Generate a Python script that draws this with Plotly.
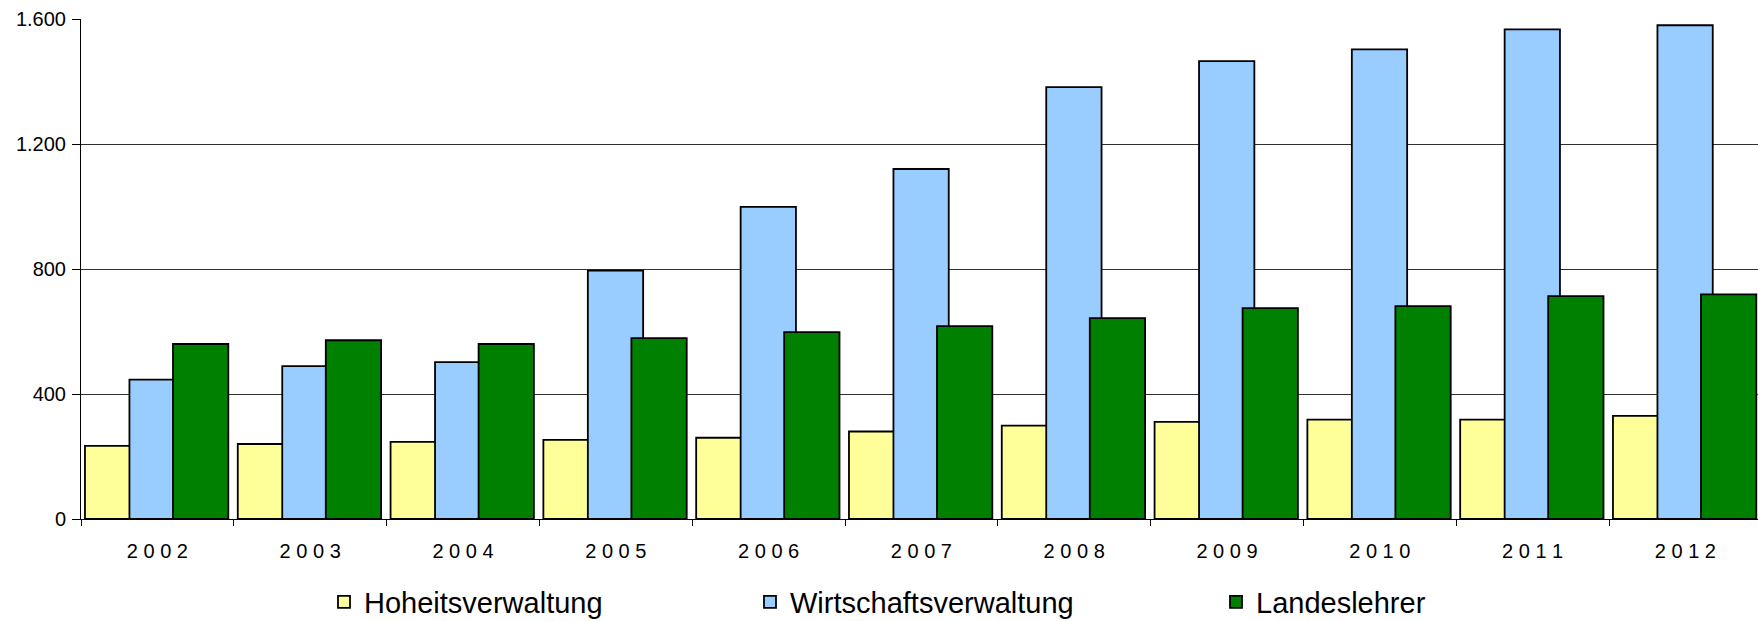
import plotly.graph_objects as go

years = ["2002", "2003", "2004", "2005", "2006", "2007", "2008", "2009", "2010", "2011", "2012"]
hoheit = [234, 240, 247, 253, 260, 280, 299, 311, 318, 318, 330]
wirtschaft = [446, 489, 502, 795, 999, 1120, 1382, 1465, 1503, 1567, 1580]
landeslehrer = [560, 572, 560, 579, 598, 617, 643, 675, 681, 713, 719]
y_ticks = [0, 400, 800, 1200, 1600]

series = [
    ("Hoheitsverwaltung", hoheit, "#FFFF99", -0.474, "legend"),
    ("Wirtschaftsverwaltung", wirtschaft, "#99CCFF", -0.183, "legend2"),
    ("Landeslehrer", landeslehrer, "#008000", 0.102, "legend3"),
]

FONT = "Liberation Sans, Arial, sans-serif"

fig = go.Figure()
for name, vals, color, off, leg in series:
    fig.add_trace(go.Bar(
        x=years, y=vals, name=name,
        marker=dict(color=color, line=dict(color="#000000", width=1.8)),
        width=0.362, offset=off, legend=leg,
    ))

W, H = 1758, 621
L, R, T, B = 81, 0, 19, 102
pw = W - L - R

def px2paper(px):
    return (px - L) / pw

leg_common = dict(
    orientation="h", yanchor="middle", xanchor="left", y=-0.166,
    font=dict(family=FONT, size=29, color="#000000"),
    bgcolor="rgba(0,0,0,0)", borderwidth=0,
)

fig.update_layout(
    width=W, height=H,
    margin=dict(l=L, r=R, t=T, b=B, autoexpand=False),
    paper_bgcolor="white", plot_bgcolor="white",
    barmode="overlay",
    separators=",.",
    font=dict(family=FONT, color="#000000"),
    showlegend=True,
    legend=dict(x=px2paper(324), **leg_common),
    legend2=dict(x=px2paper(750), **leg_common),
    legend3=dict(x=px2paper(1216), **leg_common),
    xaxis=dict(
        type="category",
        automargin=False,
        range=[-0.5, -0.5 + pw / 152.8],
        tickmode="array", tickvals=years,
        ticktext=[" ".join(list(y)) for y in years],
        tickson="boundaries", ticks="outside", ticklen=6, tickcolor="#000000",
        showline=True, linecolor="#000000", linewidth=1,
        showgrid=False,
        tickfont=dict(family=FONT, size=20, color="#000000"),
        ticklabelstandoff=14,
    ),
    yaxis=dict(
        automargin=False,
        range=[0, 1600],
        tickmode="array", tickvals=y_ticks,
        tickformat=",d",
        ticks="outside", ticklen=8, tickcolor="#000000",
        showline=True, linecolor="#000000", linewidth=1,
        showgrid=True, gridcolor="#303030", gridwidth=1,
        zeroline=False,
        tickfont=dict(family=FONT, size=20, color="#000000"),
        ticklabelstandoff=2,
    ),
)

fig.write_html(
    "out.html",
    config={"displayModeBar": False},
    post_script="document.body.style.margin='0';document.body.style.overflow='hidden';",
)
